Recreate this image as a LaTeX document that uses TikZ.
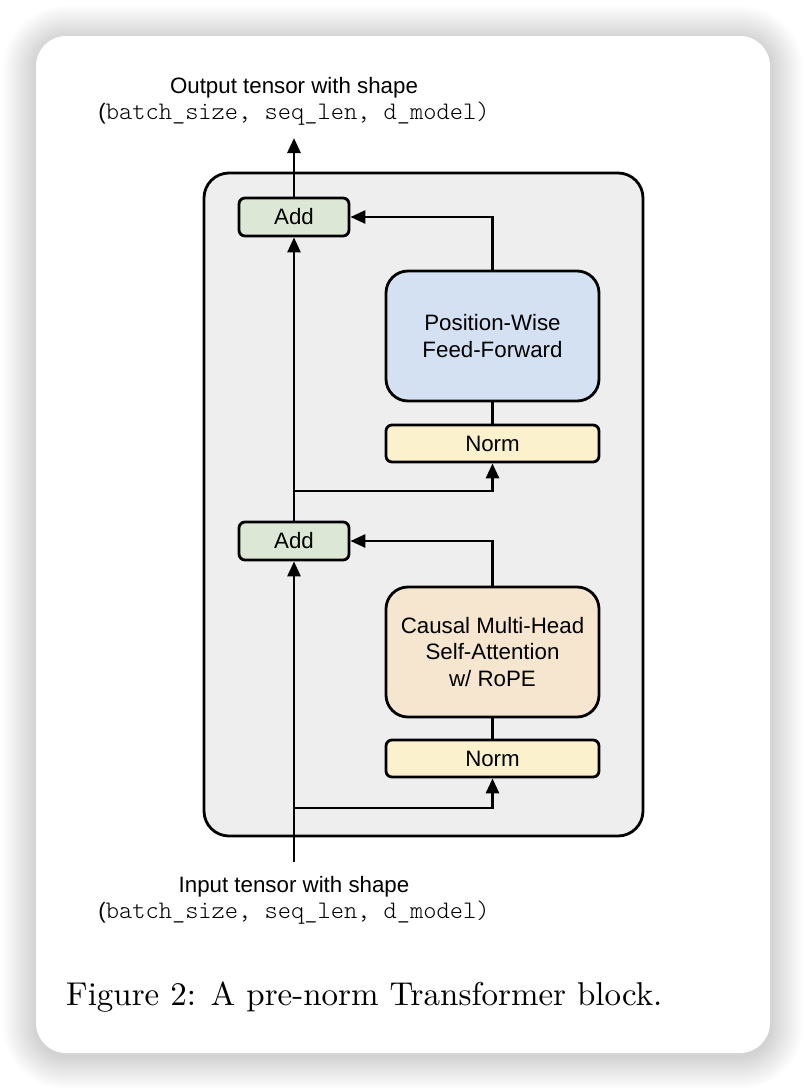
\documentclass[tikz,border=0pt]{standalone}
\usepackage{fontspec}
\newfontfamily\arial{Liberation Sans}
\newfontfamily\mono{lmmonolt10-regular.otf}
\newfontfamily\capfont{lmroman10-regular.otf}
\usetikzlibrary{arrows.meta}
\definecolor{addgreen}{HTML}{DCE8D5}
\definecolor{ffnblue}{HTML}{D4E1F3}
\definecolor{normyellow}{HTML}{FBF2CD}
\definecolor{attnorange}{HTML}{F6E5CF}
\definecolor{innergray}{HTML}{EEEEEE}
\tikzset{
  blk/.style={draw=black, line width=2.8pt, rounded corners=6pt, align=center,
    font=\arial\fontsize{22.3}{26.5}\selectfont, inner sep=0pt},
  addbox/.style={blk, fill=addgreen, minimum width=110pt, minimum height=38pt},
  normbox/.style={blk, fill=normyellow, minimum width=213pt, minimum height=37pt},
  bigbox/.style={blk, rounded corners=22pt, minimum width=213pt, minimum height=130pt},
  conn/.style={line width=2.8pt},
  arr/.style={conn, -{Triangle[length=15pt,width=13pt]}},
  lbl/.style={align=center, inner sep=0pt},
}
\newcommand{\shapeline}{{\arial\fontsize{22.3}{28}\selectfont(}{\mono\fontsize{25.2}{28}\selectfont batch\_size, seq\_len, d\_model)}}
\begin{document}
\begin{tikzpicture}[x=1pt,y=-1pt]
\useasboundingbox (0,0) rectangle (806,1090);
\fill[white] (0,0) rectangle (806,1090);
% card shadow
\foreach \s in {1.5,3,...,33}{
  \fill[black,opacity=0.006,rounded corners=30pt+\s pt] (36-\s,39-\s) rectangle (770+\s,1056+\s);
}
\fill[white,rounded corners=30pt] (36,36) rectangle (770,1053);
% inner block
\draw[line width=2.8pt, fill=innergray, rounded corners=25pt] (204,173) rectangle (643,836);
% nodes
\node[addbox] (addT) at (294,217) {Add};
\node[bigbox, fill=ffnblue] (ffn) at (492.5,336) {Position-Wise\\Feed-Forward};
\node[normbox] (normT) at (492.5,443.5) {Norm};
\node[addbox] (addB) at (294,541) {Add};
\node[bigbox, fill=attnorange] (attn) at (492.5,652) {Causal Multi-Head\\Self-Attention\\w/ RoPE};
\node[normbox] (normB) at (492.5,758.5) {Norm};
% labels
\node[lbl] (outlbl) at (294,101) {{\arial\fontsize{22.3}{28}\selectfont Output tensor with shape}\\[3pt]\shapeline};
\node[lbl] (inlbl) at (294,900) {{\arial\fontsize{22.3}{28}\selectfont Input tensor with shape}\\[3pt]\shapeline};
\node[anchor=west, inner sep=0pt, font=\capfont\fontsize{33}{40}\selectfont] (cap) at (66,997) {Figure 2: A pre-norm Transformer block.};
% coordinates
\coordinate (in) at (294,862);
\coordinate (out) at (294,138);
\coordinate (br1) at (294,808);
\coordinate (br2) at (294,491);
% connectors
\draw[arr] (in) -- (addB.south);
\draw[arr] (addB.north) -- (addT.south);
\draw[arr] (addT.north) -- (out);
\draw[arr] (br1) -| (normB.south);
\draw[conn] (normB.north) -- (attn.south);
\draw[arr] (attn.north) |- (addB.east);
\draw[arr] (br2) -| (normT.south);
\draw[conn] (normT.north) -- (ffn.south);
\draw[arr] (ffn.north) |- (addT.east);
\end{tikzpicture}
\end{document}
